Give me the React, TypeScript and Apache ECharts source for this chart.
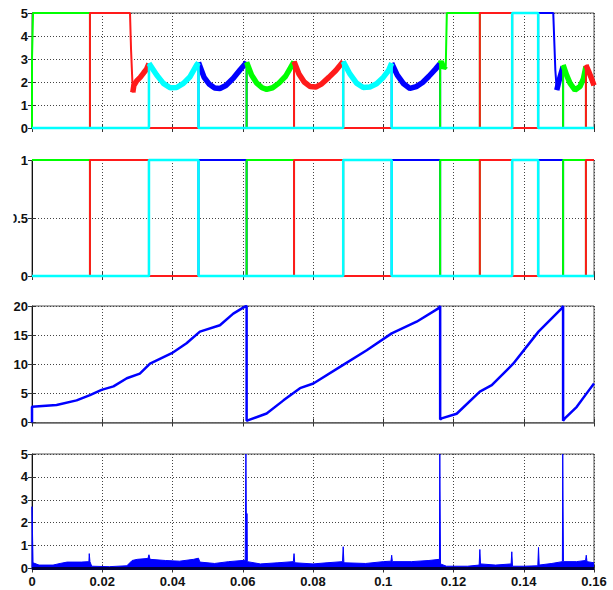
import React, { useEffect, useRef } from "react";
import * as echarts from "echarts";

type P = [number, number | null];

// ---------- X axis ----------
const xMin = 0;
const xMax = 0.16;
const xStep = 0.02;

// ---------- Subplot 1: phase voltages (0..5) ripple segments ----------
const redRipple: P[][] = [
  [[0.0287, 1.55], [0.029, 1.85], [0.0298, 2.05], [0.0308, 2.2], [0.0318, 2.4], [0.0326, 2.55], [0.0333, 2.8]],
  [[0.0746, 2.89], [0.076, 2.35], [0.0775, 2.0], [0.0792, 1.8], [0.0808, 1.78], [0.0825, 1.92], [0.0845, 2.2], [0.0865, 2.5], [0.0886, 2.89]],
  [[0.1577, 2.74], [0.1585, 2.45], [0.1593, 2.15], [0.16, 1.85]],
];
const cyanRipple: P[][] = [
  [[0.0333, 2.81], [0.0355, 2.3], [0.0374, 1.94], [0.0393, 1.75], [0.0412, 1.76], [0.0431, 1.94], [0.045, 2.23], [0.0469, 2.74], [0.0474, 2.84]],
  [[0.0886, 2.89], [0.0905, 2.35], [0.0924, 1.95], [0.0943, 1.76], [0.0962, 1.78], [0.0981, 1.92], [0.1, 2.2], [0.1015, 2.5], [0.1024, 2.82]],
];
const blueRipple: P[][] = [
  [[0.0474, 2.85], [0.049, 2.2], [0.0505, 1.9], [0.052, 1.74], [0.0535, 1.72], [0.0552, 1.85], [0.0573, 2.16], [0.0592, 2.52], [0.0611, 2.86]],
  [[0.1024, 2.82], [0.104, 2.3], [0.1058, 1.92], [0.1076, 1.72], [0.1094, 1.8], [0.1112, 1.98], [0.113, 2.25], [0.1148, 2.55], [0.1162, 2.8]],
  [[0.1494, 1.65], [0.1498, 1.9], [0.1503, 2.2], [0.1512, 2.67]],
];
const greenRipple: P[][] = [
  [[0.0611, 2.86], [0.0625, 2.3], [0.064, 1.95], [0.0655, 1.75], [0.0668, 1.68], [0.0685, 1.75], [0.0703, 1.95], [0.0722, 2.25], [0.0746, 2.89]],
  [[0.1162, 2.8], [0.1165, 2.9], [0.1172, 2.6], [0.1178, 2.7]],
  [[0.1512, 2.74], [0.1522, 2.3], [0.1532, 1.94], [0.1546, 1.65], [0.156, 1.8], [0.157, 2.15], [0.1577, 2.67]],
];

// full thin traces of subplot 1 (switching levels + ripple segments)
const blueTrace1: P[] = [
  [0, 0], [0.0474, 0], ...blueRipple[0], [0.0611, 0], [0.1024, 0], ...blueRipple[1], [0.1162, 0], [0.1441, 0],
  [0.1441, 5], [0.1484, 5], [0.149, 2.5], ...blueRipple[2], [0.1512, 0], [0.16, 0],
];
const greenTrace1: P[] = [
  [0, 0], [0, 3], [0.0003, 5], [0.0165, 5], [0.0165, 0], [0.0611, 0], ...greenRipple[0], [0.0746, 0], [0.1162, 0],
  ...greenRipple[1], [0.1181, 5], [0.1275, 5], [0.1275, 0], [0.1512, 0], ...greenRipple[2], [0.1577, 0], [0.16, 0],
];
const redTrace1: P[] = [
  [0, 0], [0.0165, 0], [0.0165, 5], [0.0279, 5], [0.0282, 3.4], [0.0285, 2.3], ...redRipple[0], [0.0333, 0], [0.0746, 0],
  ...redRipple[1], [0.0886, 0], [0.1275, 0], [0.1275, 5], [0.1367, 5], [0.1367, 0], [0.1577, 0], ...redRipple[2],
];
const cyanTrace1: P[] = [
  [0, 0], [0.0333, 0], ...cyanRipple[0], [0.0474, 0], [0.0886, 0], ...cyanRipple[1], [0.1024, 0], [0.1367, 0],
  [0.1367, 5], [0.1441, 5], [0.1441, 0], [0.16, 0],
];

// ---------- Subplot 2: logic signals (0..1) ----------
const blue2: P[] = [[0, 0], [0.0474, 0], [0.0474, 1], [0.0611, 1], [0.0611, 0], [0.1024, 0], [0.1024, 1], [0.1162, 1], [0.1162, 0], [0.1441, 0], [0.1441, 1], [0.1512, 1], [0.1512, 0], [0.16, 0]];
const green2: P[] = [[0, 1], [0.0165, 1], [0.0165, 0], [0.0611, 0], [0.0611, 1], [0.0746, 1], [0.0746, 0], [0.1162, 0], [0.1162, 1], [0.1275, 1], [0.1275, 0], [0.1512, 0], [0.1512, 1], [0.1577, 1], [0.1577, 0], [0.16, 0]];
const red2: P[] = [[0, 0], [0.0165, 0], [0.0165, 1], [0.0333, 1], [0.0333, 0], [0.0746, 0], [0.0746, 1], [0.0886, 1], [0.0886, 0], [0.1275, 0], [0.1275, 1], [0.1367, 1], [0.1367, 0], [0.1577, 0], [0.1577, 1], [0.16, 1]];
const cyan2: P[] = [[0, 0], [0.0333, 0], [0.0333, 1], [0.0474, 1], [0.0474, 0], [0.0886, 0], [0.0886, 1], [0.1024, 1], [0.1024, 0], [0.1367, 0], [0.1367, 1], [0.1441, 1], [0.1441, 0], [0.16, 0]];

// ---------- Subplot 3: ramp (0..20) ----------
const ramp3: P[] = [
  [0, 0], [0, 2.7], [0.007, 3.0], [0.0127, 3.8], [0.0165, 4.7], [0.0198, 5.6], [0.0232, 6.2], [0.027, 7.6], [0.0307, 8.4],
  [0.0336, 10.1], [0.0398, 11.9], [0.044, 13.6], [0.0478, 15.6], [0.0535, 16.7], [0.0573, 18.7], [0.0606, 19.9], [0.0611, 20],
  [0.0611, 0.3], [0.0616, 0.4], [0.0668, 1.55], [0.0716, 3.8], [0.0763, 5.9], [0.0801, 6.7], [0.0886, 9.9], [0.0953, 12.4],
  [0.1024, 15.3], [0.1095, 17.3], [0.1157, 19.6], [0.1162, 20], [0.1162, 0.5], [0.1166, 0.7], [0.1209, 1.5], [0.1275, 5.3],
  [0.1309, 6.4], [0.137, 10.1], [0.1442, 15.6], [0.1508, 19.6], [0.1512, 20], [0.1512, 0.3], [0.1517, 0.7], [0.1551, 2.7],
  [0.1579, 5.0], [0.16, 6.7],
];

// ---------- Subplot 4: current (0..5) ----------
const current4: P[] = [
  [0, 0], [0, 2.7], [0.0003, 0.25], [0.002, 0.15], [0.006, 0.15], [0.008, 0.22], [0.01, 0.28], [0.014, 0.28], [0.0162, 0.3],
  [0.0163, 0.65], [0.0165, 0.3], [0.017, 0.1], [0.022, 0.08], [0.027, 0.12], [0.0285, 0.35], [0.03, 0.4], [0.033, 0.44],
  [0.0333, 0.6], [0.0336, 0.4], [0.038, 0.35], [0.042, 0.32], [0.046, 0.4], [0.0474, 0.45], [0.0478, 0.28], [0.052, 0.22],
  [0.056, 0.3], [0.0607, 0.36], [0.0609, 5], [0.0611, 0.4], [0.0612, 2.4], [0.0613, 0.3], [0.065, 0.2], [0.07, 0.25],
  [0.0744, 0.3], [0.0746, 0.65], [0.0748, 0.25], [0.08, 0.2], [0.084, 0.25], [0.0884, 0.3], [0.0886, 0.95], [0.0888, 0.25],
  [0.095, 0.22], [0.1, 0.3], [0.1022, 0.32], [0.1024, 0.58], [0.1026, 0.3], [0.108, 0.3], [0.113, 0.35], [0.116, 0.4],
  [0.1161, 5], [0.1163, 0.2], [0.118, 0.1], [0.124, 0.1], [0.1273, 0.15], [0.1275, 0.83], [0.1277, 0.2], [0.132, 0.15],
  [0.1364, 0.2], [0.1366, 0.73], [0.1368, 0.1], [0.14, 0.1], [0.144, 0.12], [0.1442, 0.92], [0.1444, 0.15], [0.148, 0.22],
  [0.151, 0.3], [0.1511, 5], [0.1513, 0.3], [0.155, 0.3], [0.1576, 0.35], [0.1578, 0.58], [0.158, 0.3], [0.16, 0.25],
];

// ---------- Y ranges ----------
const yRanges = [
  { min: 0, max: 5, interval: 1 },
  { min: 0, max: 1, interval: 0.5 },
  { min: 0, max: 20, interval: 5 },
  { min: 0, max: 5, interval: 1 },
];

const COLORS = { blue: "#0000ff", green: "#00ff00", red: "#ff1a1a", cyan: "#00ffff" };

function joinSegs(segs: P[][]): P[] {
  const out: P[] = [];
  segs.forEach((s, i) => {
    if (i > 0) out.push([s[0][0], null]);
    out.push(...s);
  });
  return out;
}

export default function App() {
  const ref = useRef<HTMLDivElement>(null);
  useEffect(() => {
    if (!ref.current) return;
    const chart = echarts.init(ref.current, undefined, { renderer: "svg" });
    const gridsPx = [
      { top: 13, height: 115 },
      { top: 160, height: 116 },
      { top: 306, height: 116.5 },
      { top: 454, height: 114.5 },
    ];
    const labelFont = {
      fontFamily: "'Liberation Sans Narrow', 'Liberation Sans', Arial, sans-serif",
      fontWeight: "bold" as const,
      fontSize: 13,
      color: "#111",
    };
    const grid = gridsPx.map((g) => ({
      left: 32,
      right: 19,
      top: g.top,
      height: g.height,
      show: true,
      borderColor: "#555",
      borderWidth: 1,
      backgroundColor: "#fff",
    }));
    const dotted = { type: [1, 2] as number[], color: "#444", width: 1 };
    const xAxis: any[] = [];
    const yAxis: any[] = [];
    for (let i = 0; i < 4; i++) {
      xAxis.push({
        type: "value",
        gridIndex: i,
        position: "bottom",
        min: xMin,
        max: xMax,
        interval: xStep,
        axisLine: { show: true, onZero: false, lineStyle: { color: "#666", width: 1.5 } },
        axisTick: { show: true, inside: true, length: 4, lineStyle: { color: "#333" } },
        axisLabel: { show: i === 3, margin: 6, ...labelFont },
        splitLine: { show: true, lineStyle: dotted },
      });
      xAxis.push({
        type: "value",
        gridIndex: i,
        position: "top",
        min: xMin,
        max: xMax,
        interval: xStep,
        axisLine: { show: false },
        axisTick: { show: true, inside: true, length: 4, lineStyle: { color: "#333" } },
        axisLabel: { show: false },
        splitLine: { show: false },
      });
      yAxis.push({
        type: "value",
        gridIndex: i,
        position: "left",
        ...yRanges[i],
        axisLine: { show: true, onZero: false, lineStyle: { color: "#111", width: 1 } },
        axisTick: { show: true, inside: true, length: 4, lineStyle: { color: "#333" } },
        axisLabel: { show: true, margin: 4, ...labelFont },
        splitLine: { show: true, lineStyle: dotted },
      });
      yAxis.push({
        type: "value",
        gridIndex: i,
        position: "right",
        ...yRanges[i],
        axisLine: { show: false },
        axisTick: { show: true, inside: true, length: 4, lineStyle: { color: "#333" } },
        axisLabel: { show: false },
        splitLine: { show: false },
      });
    }
    const line = (grid: number, data: P[], color: string, width: number, extra: any = {}) => ({
      type: "line",
      xAxisIndex: grid * 2,
      yAxisIndex: grid * 2,
      data,
      showSymbol: false,
      symbol: "none",
      silent: true,
      connectNulls: false,
      clip: grid >= 2,
      lineStyle: { color, width },
      ...extra,
    });
    const series: any[] = [
      // subplot 1
      line(0, blueTrace1, COLORS.blue, 2),
      line(0, joinSegs(blueRipple), COLORS.blue, 5.5),
      line(0, greenTrace1, COLORS.green, 2),
      line(0, joinSegs(greenRipple), COLORS.green, 5.5),
      line(0, redTrace1, COLORS.red, 2),
      line(0, joinSegs(redRipple), COLORS.red, 5.5),
      line(0, cyanTrace1, COLORS.cyan, 2.5),
      line(0, joinSegs(cyanRipple), COLORS.cyan, 5.5),
      // subplot 2
      line(1, blue2, COLORS.blue, 2),
      line(1, green2, COLORS.green, 2),
      line(1, red2, COLORS.red, 2),
      line(1, cyan2, COLORS.cyan, 2.5),
      // subplot 3
      line(2, ramp3, COLORS.blue, 2.5),
      // subplot 4
      line(3, current4, COLORS.blue, 1, { areaStyle: { color: COLORS.blue, opacity: 1 } }),
      line(3, [[0, 0], [0.16, 0]], "#000040", 3),
    ];
    chart.setOption({
      animation: false,
      backgroundColor: "#fff",
      grid,
      xAxis,
      yAxis,
      series,
      graphic: [
        { type: "rect", z: 1000, silent: true, shape: { x: 0, y: 210, width: 13.5, height: 16 }, style: { fill: "#fff" } },
      ],
    });
    return () => chart.dispose();
  }, []);
  return <div ref={ref} style={{ position: "absolute", left: 0, top: 0, width: 613, height: 590 }} />;
}
